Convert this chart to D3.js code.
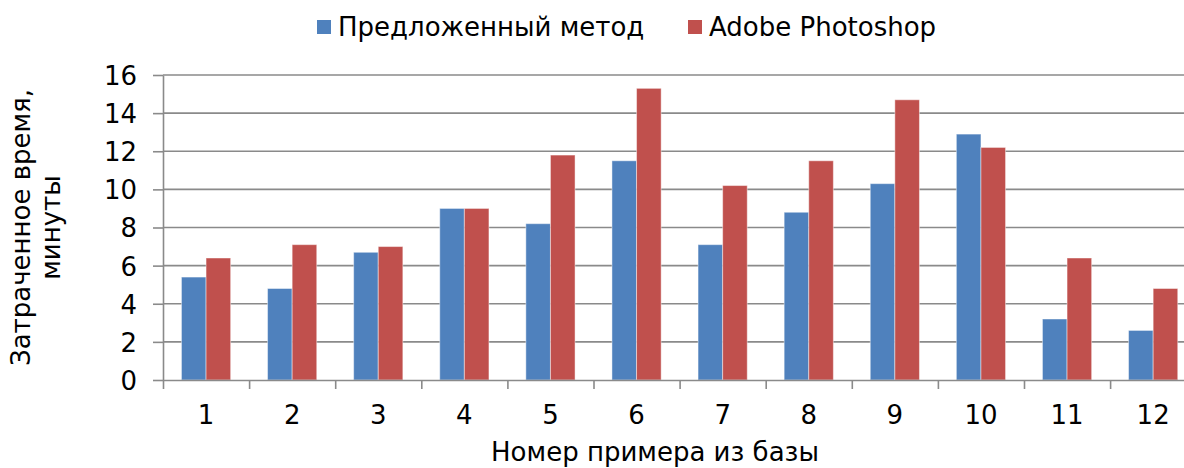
<!DOCTYPE html>
<html>
<head>
<meta charset="utf-8">
<script src="https://cdn.jsdelivr.net/npm/d3@7"></script>
<style>
  html, body { margin: 0; padding: 0; background: #fff; }
  svg { display: block; font-family: "DejaVu Sans", Verdana, sans-serif; }
</style>
</head>
<body>
<svg id="chart" width="1184" height="468"></svg>
<script>
// Sample numbers from the database
const categories = ["1", "2", "3", "4", "5", "6", "7", "8", "9", "10", "11", "12"];
// Time spent, minutes
const proposedMethod = [5.4, 4.8, 6.7, 9.0, 8.2, 11.5, 7.1, 8.8, 10.3, 12.9, 3.2, 2.6];
const adobePhotoshop = [6.4, 7.1, 7.0, 9.0, 11.8, 15.3, 10.2, 11.5, 14.7, 12.2, 6.4, 4.8];
const seriesNames = ["Предложенный метод", "Adobe Photoshop"];
const yTicks = [0, 2, 4, 6, 8, 10, 12, 14, 16];

const colors = ["#4F81BD", "#C0504D"];
const gridColor = "#8a8a8a";

const svg = d3.select("#chart");
const plotLeft = 163, plotTop = 75, plotBottom = 380;
const step = 86.1;
const plotRight = plotLeft + step * categories.length;

const x = d3.scaleBand()
  .domain(categories)
  .range([plotLeft, plotRight])
  .paddingInner(1.5 / 3.5)
  .paddingOuter(0.75 / 3.5);

const xs = d3.scaleBand()
  .domain(d3.range(seriesNames.length))
  .range([0, x.bandwidth()]);

const y = d3.scaleLinear().domain([0, 16]).range([plotBottom, plotTop]);

// category boundary scale for the tick marks under the axis
const xEdge = d3.scaleLinear().domain([0, categories.length]).range([plotLeft, plotRight]);

// horizontal gridlines
svg.append("g")
  .selectAll("line")
  .data(yTicks.filter(d => d > 0))
  .join("line")
  .attr("x1", plotLeft).attr("x2", plotRight)
  .attr("y1", d => y(d)).attr("y2", d => y(d))
  .attr("stroke", gridColor).attr("stroke-width", 1.6);

// bars
const data = categories.map((c, i) => ({ c, v: [proposedMethod[i], adobePhotoshop[i]] }));
const groups = svg.append("g")
  .selectAll("g")
  .data(data)
  .join("g")
  .attr("transform", d => `translate(${x(d.c)},0)`);

groups.selectAll("rect")
  .data(d => d.v.map((v, k) => ({ v, k })))
  .join("rect")
  .attr("x", d => xs(d.k))
  .attr("width", xs.bandwidth())
  .attr("y", d => y(d.v))
  .attr("height", d => y(0) - y(d.v))
  .attr("fill", d => colors[d.k])
  .attr("stroke", "rgba(255,255,255,0.45)")
  .attr("stroke-width", 1);

// y axis
const yAxis = svg.append("g")
  .attr("transform", `translate(${plotLeft},0)`)
  .call(d3.axisLeft(y).tickValues(yTicks).tickSize(10).tickPadding(16).tickSizeOuter(0));
yAxis.select(".domain").attr("stroke", gridColor).attr("stroke-width", 1.6);
yAxis.selectAll(".tick line").attr("stroke", gridColor).attr("stroke-width", 1.6);
yAxis.selectAll(".tick text")
  .attr("font-size", 26).attr("fill", "#000")
  .attr("font-family", "DejaVu Sans, Verdana, sans-serif")
  .attr("dy", "0.36em");

// x axis: boundary ticks
const xAxis = svg.append("g")
  .attr("transform", `translate(0,${plotBottom})`)
  .call(d3.axisBottom(xEdge).tickValues(d3.range(categories.length + 1)).tickSize(9).tickFormat("").tickSizeOuter(0));
xAxis.select(".domain").attr("stroke", gridColor).attr("stroke-width", 1.6);
xAxis.selectAll(".tick line").attr("stroke", gridColor).attr("stroke-width", 1.6);

// x axis: category labels
const xLabels = svg.append("g")
  .attr("transform", `translate(0,${plotBottom})`)
  .call(d3.axisBottom(x).tickSize(0).tickPadding(0));
xLabels.select(".domain").remove();
xLabels.selectAll(".tick text")
  .attr("font-size", 26).attr("fill", "#000")
  .attr("font-family", "DejaVu Sans, Verdana, sans-serif")
  .attr("y", 44).attr("dy", 0);

// axis titles
svg.append("text")
  .attr("x", 655).attr("y", 461)
  .attr("text-anchor", "middle")
  .attr("font-size", 26)
  .text("Номер примера из базы");

const yMid = (plotTop + plotBottom) / 2;
const yTitle = svg.append("g").attr("font-size", 26).attr("text-anchor", "middle");
yTitle.append("text")
  .attr("transform", `translate(30,${yMid}) rotate(-90)`)
  .text("Затраченное время,");
yTitle.append("text")
  .attr("transform", `translate(60,${yMid}) rotate(-90)`)
  .text("минуты");

// legend
const legendX = [317, 688];
const legend = svg.append("g")
  .selectAll("g")
  .data(seriesNames)
  .join("g")
  .attr("transform", (d, i) => `translate(${legendX[i]},0)`);
legend.append("rect")
  .attr("x", 0).attr("y", 20)
  .attr("width", 14).attr("height", 14)
  .attr("fill", (d, i) => colors[i]);
legend.append("text")
  .attr("x", 21).attr("y", 35.5)
  .attr("font-size", 26)
  .text(d => d);
</script>
</body>
</html>
